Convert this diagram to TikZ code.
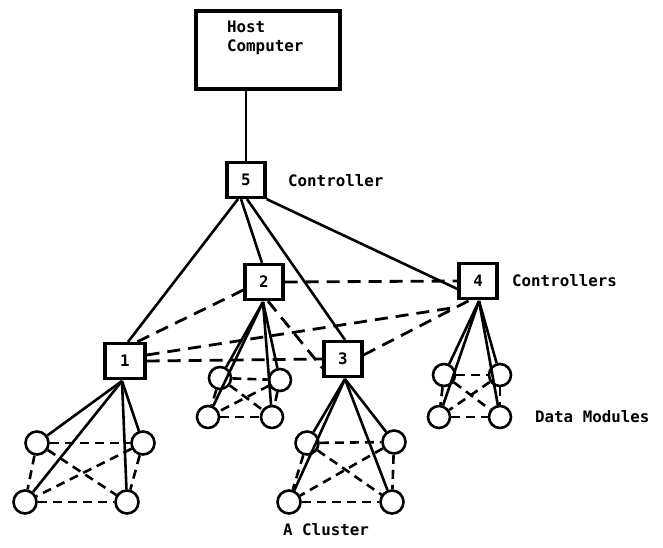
\documentclass[tikz,border=0pt]{standalone}
\usepackage{fontspec}
\setmonofont{DejaVu Sans Mono}
\begin{document}
\begin{tikzpicture}[x=1pt,y=-1pt,
  lbl/.style={font=\fontsize{15.8}{20}\selectfont\ttfamily\bfseries, inner sep=0pt},
  ctrl/.style={draw, line width=3.2pt, inner sep=0pt, minimum width=38pt, minimum height=35pt,
     font=\fontsize{15.8}{20}\selectfont\ttfamily\bfseries},
  dm/.style={draw, circle, line width=2.6pt, inner sep=0pt, minimum size=23pt},
  link/.style={line width=2.6pt},
  dlink/.style={line width=2.8pt, dash pattern=on 13pt off 8pt},
  clink/.style={line width=2.6pt, dash pattern=on 9pt off 6pt}]
\fill[white] (0,0) rectangle (663,548);
\useasboundingbox (0,0) rectangle (663,548);

% host
\node[draw, line width=3.2pt, minimum width=144pt, minimum height=78pt, inner sep=0pt] (host) at (268,50) {};
\node[lbl, anchor=west] (hosttxt) at (227,27) {Host};
\node[lbl, anchor=west] (comptxt) at (227,47) {Computer};

% controllers
\node[ctrl] (n5) at (246,180) {5};
\node[ctrl] (n2) at (264,282) {2};
\node[ctrl] (n4) at (478,281) {4};
\node[ctrl, minimum width=40pt] (n1) at (125,361) {1};
\node[ctrl] (n3) at (343,359) {3};

% labels
\node[lbl, anchor=west] (lc) at (288,181) {Controller};
\node[lbl, anchor=west] (lcs) at (512,281) {Controllers};
\node[lbl, anchor=west] (ldm) at (535,417) {Data Modules};
\node[lbl, anchor=west] (lac) at (283,530) {A Cluster};

% data modules
\node[dm] (a1) at (37,443) {};
\node[dm] (a2) at (143,443) {};
\node[dm] (a3) at (25,502) {};
\node[dm] (a4) at (127,502) {};

\node[dm, minimum size=22pt] (b1) at (220,378) {};
\node[dm, minimum size=22pt] (b2) at (280,380) {};
\node[dm, minimum size=22pt] (b3) at (208,417) {};
\node[dm, minimum size=22pt] (b4) at (272,417) {};

\node[dm] (d1) at (307,443) {};
\node[dm] (d2) at (394,442) {};
\node[dm] (d3) at (289,502) {};
\node[dm] (d4) at (392,502) {};

\node[dm, minimum size=22pt] (e1) at (444,375) {};
\node[dm, minimum size=22pt] (e2) at (500,375) {};
\node[dm, minimum size=22pt] (e3) at (439,417) {};
\node[dm, minimum size=22pt] (e4) at (500,417) {};

% convergence points
\coordinate (p1) at (122,381);
\coordinate (p2) at (263,302);
\coordinate (p3) at (345,379);
\coordinate (p4) at (479,301);

% solid links
\draw[link] (n5.north |- host.south) -- (n5.north);
\draw[link] ([xshift=-8pt]n5.south) -- ([xshift=3pt]n1.north);
\draw[link] ([xshift=-5pt]n5.south) -- ([xshift=-2pt]n2.north);
\draw[link] ([xshift=1pt]n5.south) -- ([xshift=2pt]n3.north);
\draw[link] (n5.south east) -- ([yshift=-8pt]n4.west);

% dashed links between controllers
\draw[dlink] (n2.east) -- (n4.west);
\draw[dlink] ([yshift=-8pt]n2.west) -- ([xshift=12pt]n1.north);
\draw[dlink] ([yshift=6pt]n1.east) -- ([yshift=-7pt]n4.south west);
\draw[dlink] (n1.east) -- (n3.west);
\draw[dlink] ([xshift=4pt]n2.south) -- ([yshift=-9pt]n3.west);
\draw[dlink] ([yshift=4pt]n3.east) -- ([xshift=-8pt]n4.south);

% clusters: solid from controllers
\foreach \c in {a1,a2,a3,a4} \draw[link] (p1) -- (\c);
\foreach \c in {b1,b2,b3,b4} \draw[link] (p2) -- (\c);
\foreach \c in {d1,d2,d3,d4} \draw[link] (p3) -- (\c);
\foreach \c in {e1,e2,e3,e4} \draw[link] (p4) -- (\c);

% clusters: dashed complete graphs
\foreach \k in {a,b,d,e}{
  \draw[clink] (\k1) -- (\k2);
  \draw[clink] (\k1) -- (\k3);
  \draw[clink] (\k1) -- (\k4);
  \draw[clink] (\k2) -- (\k3);
  \draw[clink] (\k2) -- (\k4);
  \draw[clink] (\k3) -- (\k4);
}
\end{tikzpicture}
\end{document}
